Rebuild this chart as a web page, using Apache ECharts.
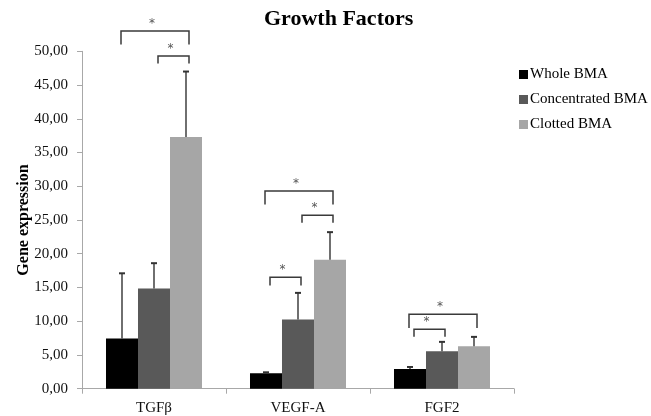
<!DOCTYPE html>
<html>
<head>
<meta charset="utf-8">
<script src="https://cdn.jsdelivr.net/npm/echarts@6/dist/echarts.min.js"></script>
<style>html,body{margin:0;padding:0;background:#fff}#c{width:651px;height:416px}</style>
</head>
<body>
<div id="c"></div>
<script>
const categories = ['TGFβ', 'VEGF-A', 'FGF2'];
const seriesNames = ['Whole BMA', 'Concentrated BMA', 'Clotted BMA'];
const wholeBMA = [7.43, 2.28, 2.93];
const concentratedBMA = [14.86, 10.25, 5.55];
const clottedBMA = [37.3, 19.12, 6.3];
const wholeErr = [9.67, 0.15, 0.29];
const concentratedErr = [3.74, 3.95, 1.39];
const clottedErr = [9.7, 4.08, 1.38];
const yTickLabels = ['0,00','5,00','10,00','15,00','20,00','25,00','30,00','35,00','40,00','45,00','50,00'];
// significance brackets: category, from bar, to bar, top level, leg bottom level
const bracketCategory = [0, 0, 1, 1, 1, 2, 2];
const bracketFrom     = [0, 1, 0, 1, 0, 0, 0];
const bracketTo       = [2, 2, 2, 2, 1, 2, 1];
const bracketTop      = [53.0, 49.3, 29.3, 25.7, 16.5, 11.05, 8.8];
const bracketLeg      = [51.0, 48.2, 27.3, 24.6, 15.3, 9.0, 7.7];
const bracketLabel    = ['*', '*', '*', '*', '*', '*', '*'];

const values = [wholeBMA, concentratedBMA, clottedBMA];
const errs = [wholeErr, concentratedErr, clottedErr];
const colors = ['#000000', '#595959', '#a6a6a6'];
const font = "'Liberation Serif', 'Times New Roman', serif";

const errData = [];
values.forEach((arr, s) => arr.forEach((v, c) => errData.push([c, s, v, errs[s][c]])));
const brData = bracketCategory.map((c, i) => [c, bracketFrom[i], bracketTo[i], bracketTop[i], bracketLeg[i], bracketLabel[i]]);

const chart = echarts.init(document.getElementById('c'), null, {renderer: 'canvas'});
chart.setOption({
  animation: false,
  backgroundColor: '#fff',
  title: {
    text: 'Growth Factors', left: 259, top: 3,
    textStyle: {fontFamily: font, fontSize: 22, fontWeight: 'bold', color: '#000'}
  },
  legend: {
    orient: 'vertical', left: 514, top: 62, itemWidth: 9, itemHeight: 9, itemGap: 10,
    icon: 'rect', data: seriesNames,
    textStyle: {fontFamily: font, fontSize: 15, color: '#000', padding: [0, 0, 0, -3]}
  },
  grid: {left: 82, right: 137, top: 51.3, bottom: 27.3, containLabel: false},
  xAxis: {
    type: 'category', data: categories,
    axisLine: {lineStyle: {color: '#a8a8a8', width: 1}},
    axisTick: {show: true, length: 5, lineStyle: {color: '#a8a8a8'}},
    axisLabel: {fontFamily: font, fontSize: 15, color: '#111', margin: 12}
  },
  yAxis: {
    type: 'value', min: 0, max: 50, interval: 5,
    name: 'Gene expression', nameLocation: 'middle', nameGap: 50, nameMoveOverlap: false,
    nameTextStyle: {fontFamily: font, fontSize: 16, fontWeight: 'bold', color: '#000'},
    axisLine: {show: true, lineStyle: {color: '#a8a8a8', width: 1}},
    axisTick: {show: true, length: 5, lineStyle: {color: '#a8a8a8'}},
    splitLine: {show: false},
    axisLabel: {fontFamily: font, fontSize: 15, color: '#111', margin: 14,
      formatter: v => yTickLabels[Math.round(v / 5)]}
  },
  series: [
    ...seriesNames.map((n, s) => ({
      name: n, type: 'bar', data: values[s], barGap: 0, barCategoryGap: '33.33%',
      itemStyle: {color: colors[s]}, z: 2
    })),
    {
      type: 'custom', name: 'err', data: errData, z: 3, clip: false,
      encode: {x: 0, y: 2},
      renderItem: function (params, api) {
        const cat = api.value(0), s = api.value(1), v = api.value(2), e = api.value(3);
        const band = api.size([1, 0])[0];
        const bw = band * 2 / 9;
        const b = api.coord([cat, v]);
        const t = api.coord([cat, v + e]);
        const x = b[0] + (s - 1) * bw;
        return {type: 'group', children: [
          {type: 'line', shape: {x1: x, y1: b[1], x2: x, y2: t[1]}, style: {stroke: '#333', lineWidth: 1.4}},
          {type: 'line', shape: {x1: x - 3, y1: t[1], x2: x + 3, y2: t[1]}, style: {stroke: '#333', lineWidth: 2}}
        ]};
      }
    },
    {
      type: 'custom', name: 'brackets', data: brData, z: 4, clip: false,
      encode: {x: 0, y: 3},
      renderItem: function (params, api) {
        const cat = api.value(0), f = api.value(1), to = api.value(2);
        const top = api.value(3), leg = api.value(4);
        const band = api.size([1, 0])[0];
        const bw = band * 2 / 9;
        const c = api.coord([cat, top]);
        const l = api.coord([cat, leg]);
        const inner = (f === 1 || to - f === 1);
        const x1 = c[0] + (f - 1) * bw + (inner ? 4 : -1);
        const x2 = c[0] + (to - 1) * bw + 3;
        const y = c[1], y2 = l[1];
        return {type: 'group', children: [
          {type: 'polyline', shape: {points: [[x1, y2], [x1, y], [x2, y], [x2, y2]]},
           style: {stroke: '#3a3a3a', lineWidth: 1.5, fill: null}},
          {type: 'text', style: {text: brData[params.dataIndex][5], x: (x1 + x2) / 2 - 3, y: y - 1,
            textAlign: 'center', textVerticalAlign: 'bottom', fill: '#555', fontSize: 12, fontFamily: "'DejaVu Sans', sans-serif"}}
        ]};
      }
    }
  ]
});
</script>
</body>
</html>
